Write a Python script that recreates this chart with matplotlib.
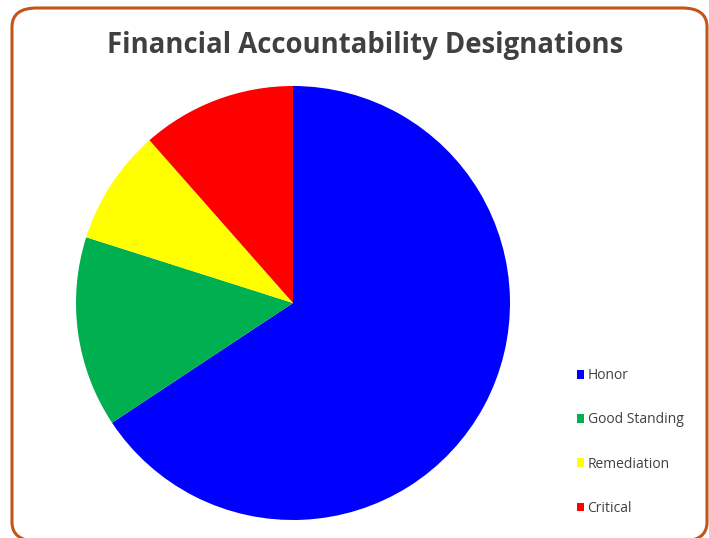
import matplotlib.pyplot as plt
from matplotlib.patches import FancyBboxPatch

# Designation shares (percent)
labels = ['Honor', 'Good Standing', 'Remediation', 'Critical']
shares = [65.7, 14.2, 8.6, 11.5]
colors = ['#0000FF', '#00B050', '#FFFF00', '#FF0000']

TEXT = '#404040'
BORDER = '#C0561A'

plt.rcParams['font.family'] = ['Open Sans', 'DejaVu Sans']

fig = plt.figure(figsize=(7.09, 5.38), dpi=100)
fig.patch.set_facecolor('white')

# Rounded chart frame (bottom edge runs just past the image)
frame = FancyBboxPatch((12 / 709, -3 / 538), 695 / 709, 533 / 538,
                       boxstyle='round,pad=0,rounding_size=0.035',
                       transform=fig.transFigure, facecolor='none',
                       edgecolor=BORDER, linewidth=2.2, zorder=5)
fig.patches.append(frame)

# pie centre ~ (293, 303) px, radius ~ 217 px
r = 217
ax = fig.add_axes([(293 - r) / 709, (538 - 303 - r) / 538, 2 * r / 709, 2 * r / 538])
wedges, _ = ax.pie(shares, colors=colors, startangle=90, counterclock=False,
                   wedgeprops=dict(linewidth=0))
ax.set_aspect('equal')
ax.set_xlim(-1, 1)
ax.set_ylim(-1, 1)
ax.axis('off')

fig.text(365 / 709, 1 - 45 / 538, 'Financial Accountability Designations',
         ha='center', va='center', fontsize=19.8, fontweight='bold', color=TEXT)

leg = fig.legend(wedges, labels, loc='center left',
                 bbox_to_anchor=(564 / 709, 1 - 442 / 538), frameon=False,
                 fontsize=10, labelcolor=TEXT, handlelength=0.55, handleheight=0.55,
                 handletextpad=0.25, labelspacing=2.1)

fig.savefig('out.png', dpi=100, facecolor='white')
